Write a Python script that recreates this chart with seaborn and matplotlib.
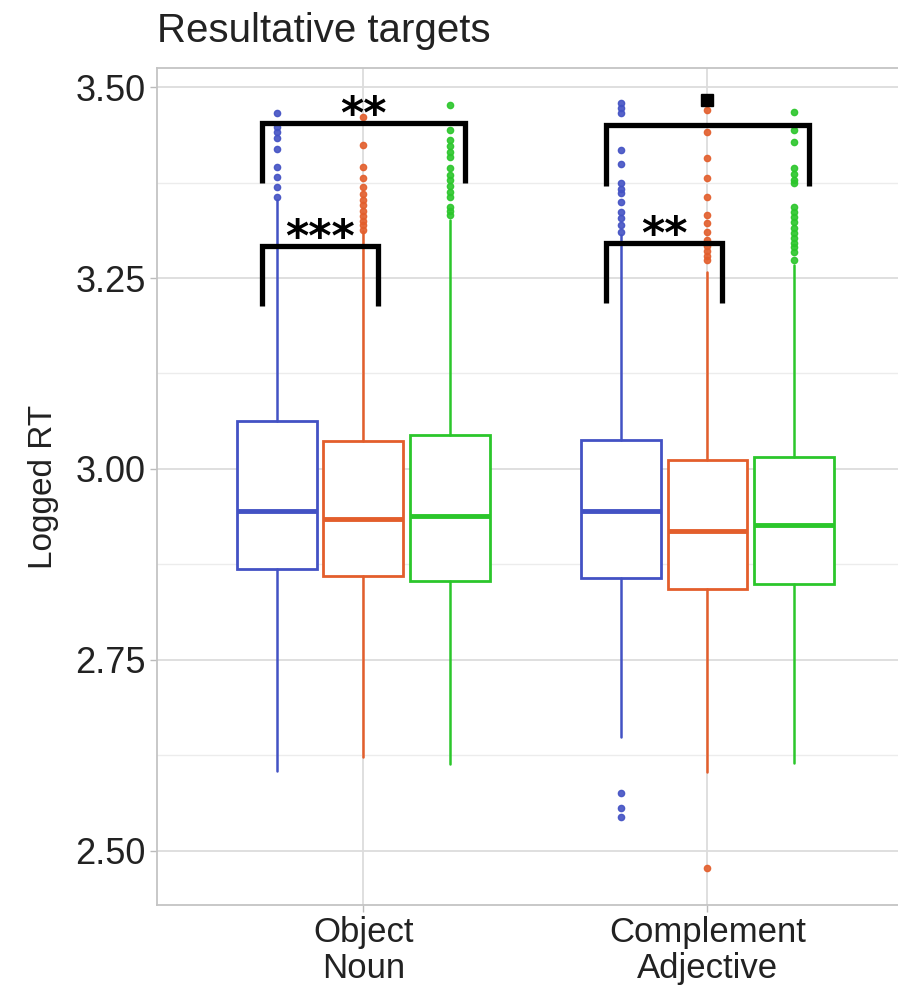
import matplotlib
matplotlib.use("Agg")
import matplotlib.pyplot as plt
import seaborn as sns

# categories and conditions
groups = ["Object\nNoun", "Complement\nAdjective"]
conditions = ["cond1", "cond2", "cond3"]
palette = ["#4352C4", "#E35E2C", "#2BC62B"]

# box statistics, order: (group, condition)
q1 = [[2.869, 2.860, 2.853], [2.857, 2.843, 2.849]]
med = [[2.945, 2.935, 2.938], [2.945, 2.919, 2.927]]
q3 = [[3.063, 3.037, 3.045], [3.038, 3.012, 3.016]]
whislo = [[2.605, 2.623, 2.613], [2.649, 2.603, 2.615]]
whishi = [[3.352, 3.311, 3.326], [3.306, 3.258, 3.267]]

# outliers
fliers = [
    [
        [3.466, 3.448, 3.441, 3.433, 3.419, 3.395, 3.382, 3.369, 3.356],
        [3.461, 3.424, 3.395, 3.381, 3.369, 3.360, 3.352, 3.345, 3.338,
         3.331, 3.325, 3.319, 3.313],
        [3.476, 3.444, 3.431, 3.423, 3.415, 3.408, 3.394, 3.385, 3.378,
         3.370, 3.363, 3.356, 3.343, 3.338, 3.332],
    ],
    [
        [3.479, 3.472, 3.466, 3.418, 3.399, 3.374, 3.367, 3.361, 3.349,
         3.336, 3.328, 3.320, 3.310, 2.576, 2.556, 2.544],
        [3.470, 3.441, 3.407, 3.381, 3.356, 3.332, 3.322, 3.310, 3.300,
         3.292, 3.285, 3.279, 3.274, 2.478],
        [3.467, 3.444, 3.428, 3.394, 3.386, 3.379, 3.374, 3.343, 3.336,
         3.330, 3.323, 3.316, 3.309, 3.302, 3.296, 3.290, 3.284, 3.274],
    ],
]

# significance brackets: (group, cond a, cond b, label, bracket top)
brackets = [
    (0, 0, 1, "***", 3.292),
    (0, 0, 2, "**", 3.453),
    (1, 0, 1, "**", 3.296),
    (1, 0, 2, "\u25a0", 3.450),
]

sns.set_theme(style="whitegrid")
plt.rcParams["font.family"] = ["Liberation Sans", "DejaVu Sans"]

fig = plt.figure(figsize=(8.98, 9.96), dpi=100)
ax = fig.add_axes([0.1748, 0.0914, 0.8252, 0.8403])

offsets = [-0.252, 0.0, 0.252]
width = 0.232

for g in range(len(groups)):
    for c in range(len(conditions)):
        col = palette[c]
        st = dict(q1=q1[g][c], med=med[g][c], q3=q3[g][c],
                  whislo=whislo[g][c], whishi=whishi[g][c],
                  fliers=fliers[g][c])
        ax.bxp([st], positions=[g + offsets[c]], widths=width,
               showcaps=False, patch_artist=True,
               boxprops=dict(facecolor="white", edgecolor=col, linewidth=2.0),
               medianprops=dict(color=col, linewidth=3.5),
               whiskerprops=dict(color=col, linewidth=1.8),
               flierprops=dict(marker="o", markersize=4.5, markerfacecolor=col,
                               markeredgecolor=col, alpha=0.9),
               zorder=3)

# brackets
for g, a, b, lab, ytop in brackets:
    xa = g + offsets[a] - 0.042
    xb = g + offsets[b] + 0.042
    ybot = ytop - 0.079
    ax.plot([xa, xa, xb, xb], [ybot, ytop, ytop, ybot], color="black",
            linewidth=3.8, solid_capstyle="butt", solid_joinstyle="miter",
            zorder=5)
    xm = (g + offsets[a] + g + offsets[b]) / 2
    if lab == "\u25a0":
        ax.plot([g + offsets[1]], [ytop + 0.033], marker="s", markersize=8,
                color="black", linestyle="none", zorder=6)
    else:
        ax.text(xm, ytop - 0.0065, lab, ha="center", va="baseline",
                fontsize=32, fontweight="bold", color="black",
                family="DejaVu Sans", zorder=6)

ax.set_xlim(-0.6, 1.554)
ax.set_ylim(2.429, 3.525)
ax.set_xticks([0, 1])
ax.set_xticklabels(groups, fontsize=25, color="#222222", linespacing=1.1)
ax.set_yticks([2.50, 2.75, 3.00, 3.25, 3.50])
ax.set_yticklabels(["2.50", "2.75", "3.00", "3.25", "3.50"], fontsize=26,
                   color="#222222")
ax.set_yticks([2.625, 2.875, 3.125, 3.375], minor=True)
ax.grid(True, which="major", color="#dcdcdc", linewidth=1.3)
ax.grid(True, which="minor", axis="y", color="#ececec", linewidth=1.0)
ax.tick_params(axis="both", which="major", length=5, width=1.0,
               color="#bbbbbb", pad=3, left=True, bottom=True)
ax.tick_params(axis="y", which="minor", length=0)
for side in ["left", "bottom", "top"]:
    ax.spines[side].set_color("#c4c4c4")
    ax.spines[side].set_linewidth(1.3)
ax.spines["right"].set_visible(False)

ax.set_ylabel("Logged RT", fontsize=24, color="#222222", labelpad=12)
ax.set_xlabel("")
fig.text(0.175, 0.969, "Resultative targets", fontsize=29, color="#222222",
         ha="left", va="center")

fig.savefig("out.png", dpi=100)
